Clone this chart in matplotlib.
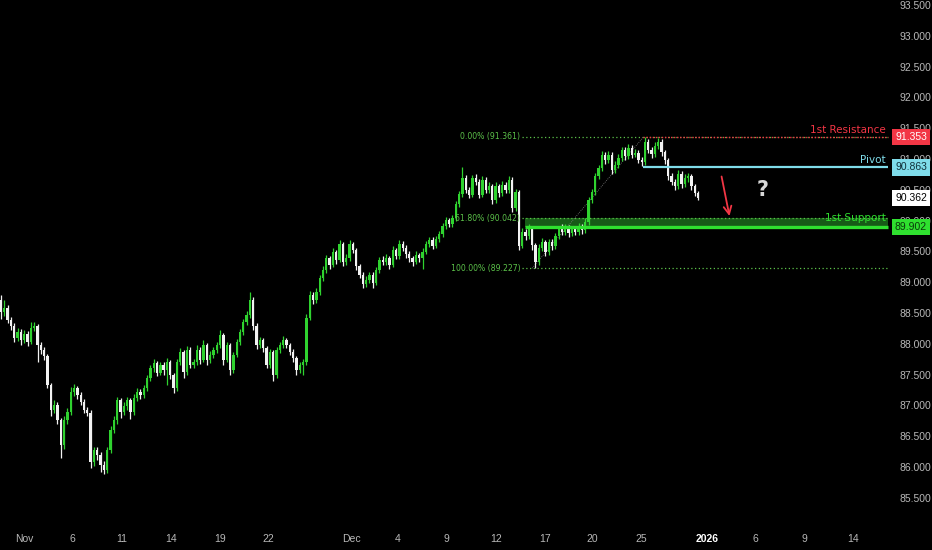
import matplotlib
matplotlib.use("Agg")
import matplotlib.pyplot as plt
import matplotlib.transforms as mtransforms
import numpy as np

# ---------------- data ----------------
first_open = 88.71
closes = [
    88.52, 88.58, 88.39, 88.29, 88.09, 88.19, 88.06, 88.16, 88.03, 88.26,
    88.29, 87.98, 87.90, 87.80, 87.33, 86.93, 87.01, 86.76, 86.36, 86.76,
    86.89, 87.22, 87.28, 87.17, 87.06, 86.93, 86.88, 86.08, 86.28, 86.20,
    86.03, 85.95, 86.28, 86.60, 86.76, 87.09, 86.89, 86.99, 87.09, 86.89,
    87.12, 87.22, 87.17, 87.28, 87.45, 87.61, 87.69, 87.53, 87.66, 87.57,
    87.70, 87.49, 87.28, 87.70, 87.87, 87.54, 87.90, 87.66, 87.70, 87.90,
    87.74, 87.98, 87.74, 87.82, 87.90, 87.98, 88.14, 87.74, 87.98, 87.57,
    87.82, 88.03, 88.19, 88.35, 88.47, 88.71, 88.29, 87.98, 88.06, 87.93,
    87.66, 87.87, 87.49, 87.90, 87.98, 88.06, 87.98, 87.87, 87.77, 87.57,
    87.66, 87.70, 88.42, 88.79, 88.71, 88.84, 89.07, 89.20, 89.39, 89.28,
    89.49, 89.36, 89.62, 89.33, 89.39, 89.62, 89.52, 89.26, 89.12, 88.97,
    89.04, 89.12, 88.99, 89.20, 89.36, 89.33, 89.39, 89.28, 89.52, 89.43,
    89.62, 89.56, 89.46, 89.39, 89.33, 89.44, 89.39, 89.49, 89.62, 89.69,
    89.59, 89.70, 89.78, 89.91, 90.01, 89.95, 90.04, 90.27, 90.43, 90.69,
    90.50, 90.42, 90.69, 90.63, 90.42, 90.66, 90.50, 90.56, 90.33, 90.56,
    90.45, 90.58, 90.50, 90.66, 90.20, 90.46, 89.59, 89.82, 89.75, 89.88,
    89.60, 89.33, 89.56, 89.65, 89.49, 89.65, 89.59, 89.75, 89.86, 89.82,
    89.88, 89.80, 89.86, 89.82, 89.90, 89.85, 89.98, 90.33, 90.46, 90.72,
    90.85, 91.07, 90.98, 91.07, 90.82, 90.90, 91.02, 91.15, 91.05, 91.18,
    91.07, 91.10, 90.98, 90.95, 91.28, 91.15, 91.08, 91.21, 91.28, 91.11,
    90.98, 90.72, 90.63, 90.56, 90.76, 90.59, 90.69, 90.72, 90.56, 90.45,
    90.362,
]
highs = [
    88.79, 88.71, 88.63, 88.44, 88.33, 88.25, 88.24, 88.22, 88.20, 88.35,
    88.35, 88.32, 88.03, 87.95, 87.84, 87.36, 87.08, 87.05, 86.80, 86.82,
    86.95, 87.30, 87.35, 87.32, 87.21, 87.10, 86.98, 86.92, 86.33, 86.32,
    86.24, 86.10, 86.32, 86.66, 86.82, 87.14, 87.12, 87.05, 87.14, 87.12,
    87.18, 87.28, 87.27, 87.33, 87.50, 87.66, 87.75, 87.72, 87.71, 87.70,
    87.77, 87.73, 87.52, 87.75, 87.93, 87.90, 87.96, 87.94, 87.76, 87.98,
    87.94, 88.06, 88.02, 87.88, 87.95, 88.03, 88.22, 88.18, 88.03, 88.01,
    87.87, 88.08, 88.24, 88.40, 88.53, 88.84, 88.76, 88.33, 88.11, 88.10,
    87.97, 87.92, 87.90, 87.95, 88.03, 88.12, 88.10, 88.02, 87.91, 87.80,
    87.71, 87.76, 88.48, 88.85, 88.84, 88.90, 89.12, 89.26, 89.44, 89.43,
    89.55, 89.53, 89.68, 89.66, 89.45, 89.68, 89.66, 89.56, 89.30, 89.16,
    89.10, 89.17, 89.16, 89.25, 89.41, 89.42, 89.45, 89.43, 89.58, 89.56,
    89.68, 89.67, 89.60, 89.50, 89.43, 89.50, 89.48, 89.55, 89.67, 89.74,
    89.73, 89.75, 89.83, 89.96, 90.06, 90.05, 90.09, 90.32, 90.48, 90.87,
    90.74, 90.55, 90.74, 90.76, 90.67, 90.72, 90.70, 90.62, 90.60, 90.62,
    90.60, 90.64, 90.63, 90.72, 90.70, 90.52, 90.50, 89.88, 89.87, 89.94,
    89.92, 89.64, 89.62, 89.71, 89.69, 89.70, 89.70, 89.80, 89.92, 89.95,
    89.94, 89.93, 89.92, 89.91, 89.96, 89.95, 90.04, 90.38, 90.52, 90.78,
    90.91, 91.13, 91.12, 91.13, 91.11, 90.96, 91.08, 91.20, 91.19, 91.24,
    91.22, 91.16, 91.14, 91.03, 91.36, 91.32, 91.20, 91.27, 91.34, 91.32,
    91.15, 91.02, 90.77, 90.67, 90.82, 90.80, 90.75, 90.78, 90.76, 90.60,
    90.48,
]
lows = [
    88.40, 88.45, 88.33, 88.22, 88.03, 88.04, 87.98, 88.02, 87.96, 87.99,
    88.20, 87.70, 87.84, 87.74, 87.28, 86.83, 86.88, 86.70, 86.15, 86.30,
    86.70, 86.85, 87.15, 87.10, 87.00, 86.88, 86.82, 85.98, 86.02, 86.12,
    85.92, 85.88, 85.90, 86.22, 86.55, 86.70, 86.80, 86.85, 86.92, 86.78,
    86.84, 87.07, 87.10, 87.12, 87.23, 87.40, 87.55, 87.47, 87.49, 87.50,
    87.33, 87.43, 87.20, 87.24, 87.65, 87.45, 87.50, 87.60, 87.60, 87.65,
    87.68, 87.70, 87.66, 87.69, 87.77, 87.85, 87.93, 87.65, 87.70, 87.50,
    87.52, 87.78, 87.98, 88.14, 88.30, 88.42, 88.22, 87.92, 87.93, 87.87,
    87.60, 87.61, 87.39, 87.45, 87.85, 87.93, 87.93, 87.82, 87.71, 87.50,
    87.52, 87.50, 87.66, 88.38, 88.64, 88.66, 88.80, 89.02, 89.15, 89.22,
    89.24, 89.30, 89.32, 89.27, 89.28, 89.35, 89.47, 89.20, 89.06, 88.91,
    88.92, 88.99, 88.91, 88.95, 89.15, 89.28, 89.28, 89.22, 89.24, 89.38,
    89.38, 89.50, 89.40, 89.33, 89.27, 89.29, 89.33, 89.22, 89.45, 89.57,
    89.54, 89.55, 89.65, 89.74, 89.86, 89.90, 89.90, 90.00, 90.22, 90.38,
    90.44, 90.36, 90.38, 90.57, 90.36, 90.38, 90.44, 90.45, 90.27, 90.28,
    90.39, 90.40, 90.44, 90.45, 90.14, 90.15, 89.52, 89.55, 89.69, 89.70,
    89.53, 89.23, 89.28, 89.51, 89.42, 89.44, 89.53, 89.54, 89.70, 89.76,
    89.77, 89.74, 89.75, 89.76, 89.77, 89.79, 89.80, 89.93, 90.28, 90.41,
    90.67, 90.80, 90.92, 90.93, 90.76, 90.77, 90.86, 90.97, 90.99, 91.00,
    91.02, 91.03, 90.93, 90.88, 90.91, 91.09, 91.02, 91.03, 91.16, 91.05,
    90.92, 90.66, 90.57, 90.50, 90.51, 90.53, 90.54, 90.63, 90.50, 90.40,
    90.33,
]

x_tick_labels = ["Nov", "6", "11", "14", "19", "22", "Dec", "4", "9", "12",
                 "17", "20", "25", "2026", "6", "9", "14"]
x_tick_pos = [6.9, 21.5, 36.4, 51.1, 65.9, 80.4, 105.7, 119.6, 134.3, 149.1,
              163.9, 178.1, 193.0, 212.7, 227.3, 242.0, 256.6]

resistance = 91.353
pivot = 90.863
support = 89.902
last_price = 90.362
fib_levels = [91.361, 90.042, 89.227]
fib_names = ["0.00%", "61.80%", "100.00%"]
y_ticks = [85.5, 86.0, 86.5, 87.0, 87.5, 88.0, 88.5, 89.0, 89.5, 90.0,
           90.5, 91.0, 91.5, 92.0, 92.5, 93.0, 93.5]

# ---------------- figure ----------------
BG = "#000000"
UP = "#2fd22f"
DOWN = "#f2f2f2"
GRAY = "#b8b8b8"
RED = "#f23645"
CYAN = "#7fdcea"
SUPG = "#2fe02f"
FIBG = "#5cc24a"

fig = plt.figure(figsize=(9.32, 5.5), dpi=100, facecolor=BG)
ax = fig.add_axes([0.0, 28 / 550, 890 / 932, 522 / 550])
ax.set_facecolor(BG)
for s in ax.spines.values():
    s.set_visible(False)

n = len(closes)
idx = np.arange(n)
opens = np.array([first_open] + closes[:-1])
c = np.array(closes)
h = np.array(highs)
l = np.array(lows)
up = c >= opens
cols = np.where(up, UP, DOWN)

ax.vlines(idx, l, h, colors=cols, linewidth=0.9, zorder=3)
bottoms = np.minimum(opens, c)
heights = np.maximum(np.abs(c - opens), 0.015)
ax.bar(idx, heights, bottom=bottoms, width=0.7, color=cols, linewidth=0, zorder=4)

ax.set_xlim(-0.3, 267.8)
ax.set_ylim(85.107, 93.581)

# fib levels
fx0, fx1 = 156.9, 267.2
for lv, nm in zip(fib_levels, fib_names):
    ax.hlines(lv, fx0, fx1, colors=FIBG, linestyles=(0, (1, 2)), linewidth=0.9, zorder=2)
    ax.text(fx0 - 0.5, lv, f"{nm} ({lv:.3f})", color=FIBG, fontsize=5.6,
            ha="right", va="center", family="DejaVu Sans", zorder=5)
# fib diagonal
ax.plot([160.0, 193.6], [fib_levels[2], fib_levels[0]], color="#808080",
        linestyle=(0, (1, 1.5)), linewidth=0.6, zorder=2)

# support zone
ax.fill_between([157.8, 267.2], support, fib_levels[1], color="#1f7a1f", alpha=0.75,
                linewidth=0, zorder=1)
ax.hlines(support, 157.8, 267.2, colors=SUPG, linewidth=2.4, zorder=5)

# resistance / pivot
ax.hlines(resistance, 193.4, 267.2, colors=RED, linestyles=(0, (1, 1.2)), linewidth=1.0, zorder=5)
ax.hlines(pivot, 193.4, 267.2, colors=CYAN, linewidth=1.6, zorder=5)

lab_kw = dict(fontsize=7.5, ha="right", va="bottom", family="DejaVu Sans", zorder=6)
ax.text(266.5, resistance + 0.04, "1st Resistance", color=RED, **lab_kw)
ax.text(266.5, pivot + 0.04, "Pivot", color=CYAN, **lab_kw)
ax.text(266.5, support + 0.065, "1st Support", color=SUPG, **lab_kw)

# arrow and question mark
ax.annotate("", xy=(219.6, 90.03), xytext=(216.9, 90.76),
            arrowprops=dict(arrowstyle="->", color=RED, lw=1.3, mutation_scale=14), zorder=6)
ax.text(229.5, 90.50, "?", color="#d8d8d8", fontsize=15, fontweight="bold",
        ha="center", va="center", zorder=6)

# y axis (right)
ax.yaxis.tick_right()
ax.set_yticks(y_ticks)
ax.set_yticklabels([f"{v:.3f}" for v in y_ticks])
ax.tick_params(axis="y", length=0, pad=7, colors=GRAY, labelsize=7.5)
for t in ax.get_yticklabels():
    t.set_family("Liberation Sans")

# x axis
ax.set_xticks(x_tick_pos)
ax.set_xticklabels(x_tick_labels)
ax.tick_params(axis="x", length=0, pad=9, colors=GRAY, labelsize=7.5)
for t in ax.get_xticklabels():
    t.set_family("Liberation Sans")
    if t.get_text() == "2026":
        t.set_color("#ffffff")
        t.set_fontweight("bold")

# price boxes on right
trans = mtransforms.blended_transform_factory(fig.transFigure, ax.transData)
boxes = [(resistance, RED, "white"), (pivot, CYAN, "#10303a"),
         (last_price, "#ffffff", "#000000"), (support, SUPG, "#0a3a0a")]
for val, bg, fg in boxes:
    fig.text(911 / 932, val, f"{val:.3f}", transform=trans, ha="center", va="center",
             fontsize=7.5, color=fg, family="Liberation Sans", zorder=10,
             bbox=dict(boxstyle="square,pad=0.3", facecolor=bg, edgecolor="none"))

fig.savefig("out.png", dpi=100, facecolor=BG)
